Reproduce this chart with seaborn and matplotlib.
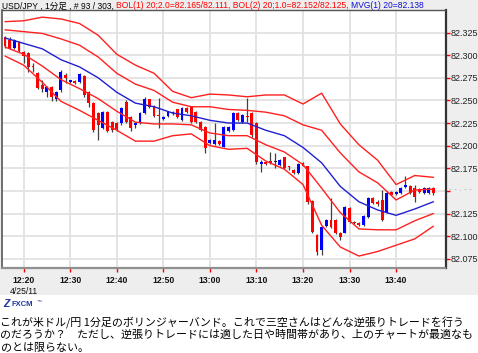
import numpy as np
import pandas as pd
import matplotlib
matplotlib.use('Agg')
import matplotlib.pyplot as plt
from matplotlib.patches import Rectangle
import seaborn as sns

# 1-minute USD/JPY candles, 12:16 .. 13:48 (93 bars)
opens = [82.320, 82.317, 82.308, 82.315, 82.303, 82.302, 82.288, 82.280, 82.267, 82.259,
         82.265, 82.252, 82.262, 82.278, 82.270, 82.271, 82.270, 82.277, 82.259, 82.247,
         82.236, 82.219, 82.237, 82.226, 82.225, 82.225, 82.248, 82.232, 82.223, 82.225,
         82.236, 82.251, 82.244, 82.234, 82.229, 82.233, 82.236, 82.240, 82.228, 82.242,
         82.243, 82.237, 82.226, 82.221, 82.203, 82.202, 82.205, 82.199, 82.216, 82.217,
         82.236, 82.226, 82.233, 82.236, 82.225, 82.180, 82.182, 82.183, 82.182, 82.179,
         82.187, 82.177, 82.173, 82.170, 82.181, 82.177, 82.139, 82.101, 82.085, 82.111,
         82.118, 82.118, 82.104, 82.104, 82.131, 82.116, 82.115, 82.112, 82.121, 82.142,
         82.138, 82.140, 82.127, 82.149, 82.147, 82.148, 82.154, 82.155, 82.153, 82.152,
         82.148, 82.148, 82.153]
highs = [82.321, 82.320, 82.318, 82.316, 82.305, 82.303, 82.291, 82.281, 82.273, 82.266,
         82.266, 82.260, 82.284, 82.280, 82.273, 82.272, 82.280, 82.278, 82.260, 82.248,
         82.237, 82.238, 82.238, 82.227, 82.226, 82.243, 82.250, 82.233, 82.226, 82.237,
         82.254, 82.252, 82.245, 82.253, 82.233, 82.238, 82.238, 82.241, 82.243, 82.243,
         82.244, 82.238, 82.227, 82.222, 82.207, 82.225, 82.206, 82.222, 82.222, 82.237,
         82.237, 82.235, 82.253, 82.237, 82.226, 82.184, 82.183, 82.193, 82.192, 82.185,
         82.188, 82.178, 82.174, 82.181, 82.182, 82.178, 82.140, 82.102, 82.111, 82.119,
         82.142, 82.119, 82.105, 82.133, 82.132, 82.117, 82.116, 82.123, 82.143, 82.143,
         82.140, 82.151, 82.150, 82.150, 82.150, 82.154, 82.166, 82.156, 82.157, 82.153,
         82.154, 82.154, 82.154]
lows = [82.308, 82.307, 82.307, 82.303, 82.291, 82.281, 82.281, 82.263, 82.259, 82.254,
        82.249, 82.249, 82.259, 82.269, 82.269, 82.268, 82.269, 82.254, 82.243, 82.215,
        82.206, 82.218, 82.215, 82.215, 82.216, 82.223, 82.225, 82.216, 82.220, 82.224,
        82.235, 82.242, 82.232, 82.220, 82.228, 82.232, 82.234, 82.231, 82.227, 82.236,
        82.225, 82.225, 82.216, 82.192, 82.202, 82.201, 82.201, 82.198, 82.215, 82.216,
        82.227, 82.225, 82.226, 82.210, 82.180, 82.171, 82.179, 82.180, 82.175, 82.178,
        82.174, 82.173, 82.169, 82.169, 82.177, 82.136, 82.103, 82.079, 82.079, 82.110,
        82.109, 82.102, 82.096, 82.103, 82.115, 82.113, 82.111, 82.111, 82.120, 82.136,
        82.133, 82.117, 82.126, 82.145, 82.146, 82.147, 82.153, 82.147, 82.138, 82.148,
        82.147, 82.147, 82.146]
closes = [82.310, 82.308, 82.317, 82.305, 82.299, 82.287, 82.287, 82.264, 82.263, 82.265,
          82.254, 82.259, 82.281, 82.275, 82.272, 82.269, 82.279, 82.256, 82.247, 82.217,
          82.223, 82.237, 82.216, 82.217, 82.218, 82.242, 82.226, 82.220, 82.225, 82.236,
          82.252, 82.243, 82.233, 82.233, 82.232, 82.237, 82.236, 82.232, 82.242, 82.237,
          82.226, 82.226, 82.217, 82.197, 82.206, 82.206, 82.202, 82.221, 82.221, 82.236,
          82.228, 82.234, 82.232, 82.212, 82.182, 82.182, 82.180, 82.181, 82.182, 82.184,
          82.175, 82.176, 82.170, 82.180, 82.178, 82.138, 82.105, 82.083, 82.110, 82.118,
          82.110, 82.104, 82.099, 82.132, 82.116, 82.114, 82.112, 82.122, 82.142, 82.137,
          82.136, 82.118, 82.148, 82.146, 82.149, 82.153, 82.157, 82.148, 82.143, 82.149,
          82.153, 82.153, 82.148]

# band lines read every 4th bar
band_bar = list(range(0, 93, 4))
bol1_up = [82.337, 82.338, 82.342, 82.340, 82.335, 82.322, 82.301, 82.289, 82.280, 82.260,
           82.253, 82.257, 82.256, 82.254, 82.256, 82.256, 82.246, 82.258, 82.224, 82.201,
           82.184, 82.157, 82.167, 82.165]
bol2_up = [82.328, 82.326, 82.324, 82.318, 82.311, 82.298, 82.280, 82.268, 82.261, 82.248,
           82.243, 82.243, 82.240, 82.239, 82.237, 82.233, 82.223, 82.217, 82.192, 82.171,
           82.159, 82.140, 82.151, 82.152]
mvg = [82.319, 82.313, 82.307, 82.295, 82.287, 82.275, 82.259, 82.247, 82.243, 82.236,
       82.233, 82.228, 82.225, 82.225, 82.217, 82.211, 82.198, 82.181, 82.155, 82.138,
       82.129, 82.123, 82.130, 82.138]
bol2_dn = [82.309, 82.301, 82.288, 82.273, 82.263, 82.252, 82.238, 82.226, 82.224, 82.224,
           82.223, 82.214, 82.211, 82.211, 82.201, 82.193, 82.179, 82.153, 82.126, 82.108,
           82.107, 82.107, 82.117, 82.125]
bol1_dn = [82.299, 82.289, 82.270, 82.249, 82.239, 82.228, 82.217, 82.205, 82.205, 82.211,
           82.213, 82.200, 82.196, 82.197, 82.183, 82.174, 82.157, 82.112, 82.088, 82.078,
           82.083, 82.090, 82.097, 82.111]

price_ticks = [82.075, 82.100, 82.125, 82.150, 82.175, 82.200, 82.225, 82.250, 82.275, 82.300, 82.325]
time_labels = ['12:20', '12:30', '12:40', '12:50', '13:00', '13:10', '13:20', '13:30', '13:40']
time_bars = [4, 14, 24, 34, 44, 54, 64, 74, 84]

title_parts = [('USD/JPY , 1分足 , # 93 / 303, ', '#000000'),
               ('BOL(1) 20;2.0=82.165/82.111, BOL(2) 20;1.0=82.152/82.125, ', '#ff0000'),
               ('MVG(1) 20=82.138', '#1010d0')]
caption = ['これが米ドル/円 1分足のボリンジャーバンド。これで三空さんはどんな逆張りトレードを行う',
           'のだろうか？　ただし、逆張りトレードには適した日や時間帯があり、上のチャートが最適なも',
           'のとは限らない。']

sns.set_style('white')
plt.rcParams['font.family'] = ['Liberation Sans', 'Noto Sans CJK JP', 'DejaVu Sans']

W, H = 478, 353
fig = plt.figure(figsize=(W / 100, H / 100), dpi=100)
fig.patch.set_facecolor('white')
fig.patches.append(Rectangle((0, 1 - 295 / H), 1, 295 / H, transform=fig.transFigure,
                             facecolor='#eeeeee', edgecolor='none', zorder=-10))

ax = fig.add_axes([2 / W, 1 - 268 / H, 443.5 / W, 258 / H])
ax.set_facecolor('white')

df = pd.DataFrame({'o': opens, 'h': highs, 'l': lows, 'c': closes})
df['bar'] = np.arange(len(df))
df['color'] = np.where(df.c > df.o, '#0000ff', np.where(df.c < df.o, '#ff0000', '#222222'))
body_lo = df[['o', 'c']].min(axis=1)
body_h = (df.c - df.o).abs().clip(lower=0.0009)

# grid
for p in price_ticks:
    ax.axhline(p, color='#e2e2e2', lw=1.3, zorder=0)
for b in time_bars:
    ax.axvline(b, color='#e2e2e2', lw=1.3, zorder=0)

# candles
ax.vlines(df.bar, df.l, df.h, color='#404040', lw=0.9, zorder=2)
ax.bar(df.bar, body_h, bottom=body_lo, width=0.62, color=df.color, lw=0, zorder=3)

# bands
bands = pd.DataFrame({'bar': band_bar, 'u1': bol1_up, 'u2': bol2_up, 'm': mvg,
                      'd2': bol2_dn, 'd1': bol1_dn})
for col, c in [('u1', '#ff2020'), ('u2', '#ff2020'), ('d2', '#ff2020'), ('d1', '#ff2020'),
               ('m', '#2020d0')]:
    sns.lineplot(data=bands, x='bar', y=col, ax=ax, color=c, lw=1.0, zorder=4, legend=False)

ax.set_xlim(-0.65, 94.6)
ax.set_ylim(82.0648, 82.3499)
ax.set_xlabel('')
ax.set_ylabel('')

ax.yaxis.tick_right()
ax.set_yticks(price_ticks)
ax.set_yticklabels([f'{p:.3f}' if abs(p - 82.150) > 1e-6 else '' for p in price_ticks])
ax.set_xticks(time_bars)
ax.set_xticklabels(time_labels, fontweight='bold')
ax.tick_params(axis='y', which='both', right=True, left=False, length=3, width=1,
               color='#ff0000', labelsize=6.5, labelcolor='#222222', pad=0.5, direction='out')
ax.tick_params(axis='x', which='both', bottom=True, length=3, width=1, color='#ff0000',
               labelsize=6.2, labelcolor='#111111', pad=2.5, direction='out')

for side, c, w in [('left', '#555555', 1.2), ('right', '#333333', 1.6),
                   ('bottom', '#909090', 1.6), ('top', '#555555', 1.0)]:
    ax.spines[side].set_visible(True)
    ax.spines[side].set_color(c)
    ax.spines[side].set_linewidth(w)

# current price marker over the hidden 82.150 label
fig.text(449 / W, 1 - 190 / H, '- - . - -', color='#aaaaaa', fontsize=6, va='center', ha='left')
fig.text(24 / W, 1 - 291 / H, '4/25/11', color='#111111', fontsize=6.2, va='center', ha='center')

renderer = fig.canvas.get_renderer()
xpos = 2 / W
for s, c in title_parts:
    t = fig.text(xpos, 1 - 6 / H, s, color=c, fontsize=6.15, va='center', ha='left')
    bb = t.get_window_extent(renderer)
    xpos = bb.x1 / W

# FXCM logo
fig.text(3 / W, 1 - 304 / H, 'Z', color='#22379a', fontsize=7.5, fontweight='bold',
         fontstyle='italic', va='center', ha='left')
fig.text(12 / W, 1 - 304 / H, 'FXCM', color='#22379a', fontsize=5.5, fontweight='bold',
         va='center', ha='left')
fig.text(37 / W, 1 - 301 / H, '™', color='#22379a', fontsize=3.5, va='center', ha='left')

for k, line in enumerate(caption):
    fig.text(0.5 / W, 1 - (323 + 12.3 * k) / H, line, color='#000000', fontsize=7.9,
             family=['Noto Sans CJK JP', 'DejaVu Sans'], va='center', ha='left')

fig.savefig('out.png', dpi=100)
